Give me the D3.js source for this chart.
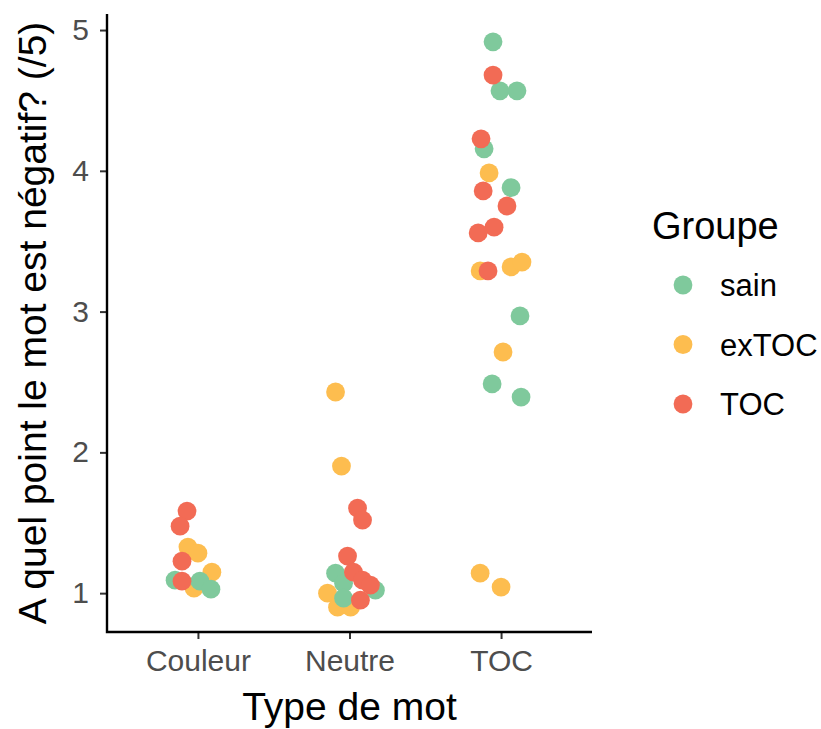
<!DOCTYPE html>
<html>
<head>
<meta charset="utf-8">
<script src="https://cdn.jsdelivr.net/npm/d3@7"></script>
<style>
  body { margin: 0; background: #fff; }
  text { font-family: "Liberation Sans", Arial, sans-serif; }
</style>
</head>
<body>
<script>
'use strict';

// categories and groups
const categories = ["Couleur", "Neutre", "TOC"];
const groups = ["sain", "exTOC", "TOC"];
const groupColors = ["#7fc99c", "#fdbd4f", "#f26b55"];
const yTicks = [1, 2, 3, 4, 5];

// points: category, score, horizontal jitter (category units)
const sainCat    = ["Couleur", "Couleur", "Couleur", "Neutre", "Neutre", "Neutre", "Neutre",
                    "TOC", "TOC", "TOC", "TOC", "TOC", "TOC", "TOC", "TOC"];
const sainVal    = [1.092, 1.085, 1.028, 1.142, 1.071, 0.964, 1.021,
                    4.916, 4.568, 4.568, 4.156, 3.88, 2.969, 2.486, 2.393];
const sainJit    = [-0.151, 0.013, 0.086, -0.092, -0.039, -0.039, 0.171,
                    -0.053, -0.007, 0.105, -0.112, 0.066, 0.125, -0.059, 0.132];

const exTOCCat   = ["Couleur", "Couleur", "Couleur", "Couleur", "Neutre", "Neutre", "Neutre", "Neutre", "Neutre",
                    "TOC", "TOC", "TOC", "TOC", "TOC", "TOC", "TOC"];
const exTOCVal   = [1.327, 1.284, 1.149, 1.036, 2.429, 1.903, 1.0, 0.9, 0.9,
                    3.985, 3.289, 3.317, 3.352, 2.713, 1.142, 1.043];
const exTOCJit   = [-0.066, 0.0, 0.092, -0.026, -0.092, -0.053, -0.145, -0.079, 0.007,
                    -0.079, -0.138, 0.066, 0.138, 0.013, -0.138, 0.0];

const tocCat     = ["Couleur", "Couleur", "Couleur", "Couleur", "Neutre", "Neutre", "Neutre", "Neutre", "Neutre", "Neutre", "Neutre",
                    "TOC", "TOC", "TOC", "TOC", "TOC", "TOC", "TOC"];
const tocVal     = [1.583, 1.476, 1.227, 1.085, 1.604, 1.519, 1.263, 1.149, 1.092, 1.057, 0.95,
                    4.68, 4.227, 3.857, 3.75, 3.6, 3.559, 3.289];
const tocJit     = [-0.072, -0.118, -0.105, -0.105, 0.053, 0.086, -0.013, 0.026, 0.086, 0.138, 0.072,
                    -0.053, -0.132, -0.118, 0.039, -0.046, -0.151, -0.086];

function rows(group, cat, val, jit) {
  return cat.map((c, i) => ({ group: group, cat: c, value: val[i], jitter: jit[i] }));
}

// drawing order: exTOC under sain under TOC
const points = [].concat(
  rows("exTOC", exTOCCat, exTOCVal, exTOCJit),
  rows("sain", sainCat, sainVal, sainJit),
  rows("TOC", tocCat, tocVal, tocJit)
);

const width = 821, height = 729;
const margin = { left: 107, right: 229, top: 14, bottom: 97 };

const svg = d3.select('body')
  .append('svg')
  .attr('width', width)
  .attr('height', height);

// discrete x like ggplot: 0.6 units of padding each side
const xIndex = d3.scaleLinear()
  .domain([0.4, 3.6])
  .range([margin.left, width - margin.right]);
const xPos = function (d) { return xIndex(categories.indexOf(d.cat) + 1 + d.jitter); };

const yScale = d3.scaleLinear()
  .domain([0.724, 5.114])
  .range([height - margin.bottom, margin.top]);

const color = d3.scaleOrdinal().domain(groups).range(groupColors);

// x axis
const xAxis = d3.axisBottom(xIndex)
  .tickValues([1, 2, 3])
  .tickFormat((d) => categories[d - 1])
  .tickSizeOuter(0)
  .tickSize(7)
  .tickPadding(11);

const gx = svg.append('g')
  .attr('transform', 'translate(0,' + (height - margin.bottom) + ')')
  .call(xAxis);
gx.select('.domain').remove();
gx.selectAll('.tick line').attr('stroke', '#333').attr('stroke-width', 2);
gx.selectAll('.tick text')
  .attr('fill', '#4d4d4d')
  .style('font-size', '30px');

// y axis
const yAxis = d3.axisLeft(yScale)
  .tickValues(yTicks)
  .tickFormat(d3.format('d'))
  .tickSizeOuter(0)
  .tickSize(7)
  .tickPadding(11);

const gy = svg.append('g')
  .attr('transform', 'translate(' + margin.left + ',0)')
  .call(yAxis);
gy.select('.domain').remove();
gy.selectAll('.tick line').attr('stroke', '#333').attr('stroke-width', 2);
gy.selectAll('.tick text')
  .attr('fill', '#4d4d4d')
  .style('font-size', '30px');

// axis lines (L shape)
svg.append('path')
  .attr('d', d3.line()([
    [margin.left, margin.top],
    [margin.left, height - margin.bottom],
    [width - margin.right, height - margin.bottom]
  ]))
  .attr('fill', 'none')
  .attr('stroke', '#000')
  .attr('stroke-width', 2.4);

// points
svg.selectAll('.dot')
  .data(points)
  .enter()
  .append('circle')
  .attr('class', 'dot')
  .attr('cx', xPos)
  .attr('cy', (d) => yScale(d.value))
  .attr('r', 9.4)
  .attr('fill', (d) => color(d.group));

// axis titles
svg.append('text')
  .attr('x', (margin.left + width - margin.right) / 2)
  .attr('y', 720)
  .attr('text-anchor', 'middle')
  .style('font-size', '39px')
  .text('Type de mot');

svg.append('text')
  .attr('transform', 'translate(46,' + ((margin.top + height - margin.bottom) / 2) + ')rotate(-90)')
  .attr('text-anchor', 'middle')
  .style('font-size', '39px')
  .text('A quel point le mot est négatif? (/5)');

// legend
const legend = svg.append('g').attr('transform', 'translate(652,0)');
legend.append('text')
  .attr('x', 0)
  .attr('y', 239)
  .style('font-size', '38px')
  .text('Groupe');

const items = legend.selectAll('.item')
  .data(groups)
  .enter()
  .append('g')
  .attr('class', 'item')
  .attr('transform', (d, i) => 'translate(0,' + (285 + i * 59.5) + ')');

items.append('circle')
  .attr('cx', 31)
  .attr('cy', 0)
  .attr('r', 9.4)
  .attr('fill', (d) => color(d));

items.append('text')
  .attr('x', 68)
  .attr('y', 11)
  .style('font-size', '31px')
  .text((d) => d);
</script>
</body>
</html>
